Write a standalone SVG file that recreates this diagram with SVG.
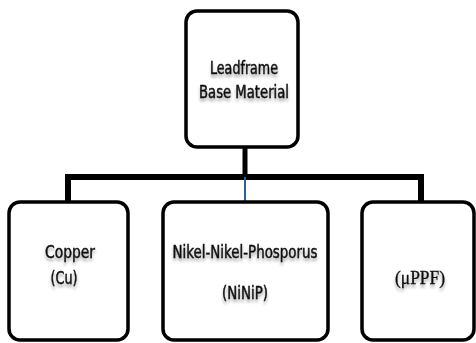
<svg xmlns="http://www.w3.org/2000/svg" width="476" height="343" viewBox="0 0 476 343">
<defs>
<filter id="sh" x="-20%" y="-30%" width="140%" height="180%">
<feGaussianBlur in="SourceAlpha" stdDeviation="1.5"/>
<feOffset dx="0" dy="3" result="b"/>
<feComponentTransfer><feFuncA type="linear" slope="0.35"/></feComponentTransfer>
<feMerge><feMergeNode/><feMergeNode in="SourceGraphic"/></feMerge>
</filter>
</defs>
<style>
.box{fill:#fff;stroke:#000;stroke-width:3.5}
.t{font-family:"DejaVu Sans Condensed","Liberation Sans Narrow","Liberation Sans",sans-serif;font-size:17px;fill:#111;stroke:#111;stroke-width:0.45;text-anchor:middle}
.s{font-family:"Liberation Serif",serif;font-size:18px;fill:#111;stroke:#111;stroke-width:0.3;text-anchor:middle}
.bar{fill:none;stroke:#000;stroke-width:6}
</style>
<rect width="476" height="343" fill="#fff"/>
<g id="connectors">
<path class="bar" d="M68,202 V177 H421 V202"/>
<line x1="245" y1="147" x2="245" y2="177" stroke="#000" stroke-width="5"/>
<line x1="245" y1="177" x2="245" y2="202" stroke="#2f5f9a" stroke-width="2"/>
</g>
<g id="leadframe">
<rect class="box" x="186" y="11" width="112" height="136" rx="11"/>
<g filter="url(#sh)">
<text class="t" x="244" y="74" textLength="68" lengthAdjust="spacingAndGlyphs">Leadframe</text>
<text class="t" x="244" y="98" textLength="90" lengthAdjust="spacingAndGlyphs">Base Material</text>
</g>
</g>
<g id="copper">
<rect class="box" x="9" y="202" width="119" height="138" rx="11"/>
<g filter="url(#sh)">
<text class="t" x="70" y="258" textLength="50" lengthAdjust="spacingAndGlyphs">Copper</text>
<text class="t" x="64" y="284" textLength="27" lengthAdjust="spacingAndGlyphs">(Cu)</text>
</g>
</g>
<g id="ninip">
<rect class="box" x="163" y="202" width="165" height="138" rx="11"/>
<g filter="url(#sh)">
<text class="t" x="245" y="258" textLength="145" lengthAdjust="spacingAndGlyphs">Nikel-Nikel-Phosporus</text>
<text class="t" x="245" y="299" textLength="46" lengthAdjust="spacingAndGlyphs">(NiNiP)</text>
</g>
</g>
<g id="uppf">
<rect class="box" x="362" y="202" width="112" height="138" rx="11"/>
<g filter="url(#sh)">
<text class="s" x="420" y="284" textLength="50" lengthAdjust="spacingAndGlyphs">(μPPF)</text>
</g>
</g>
</svg>
